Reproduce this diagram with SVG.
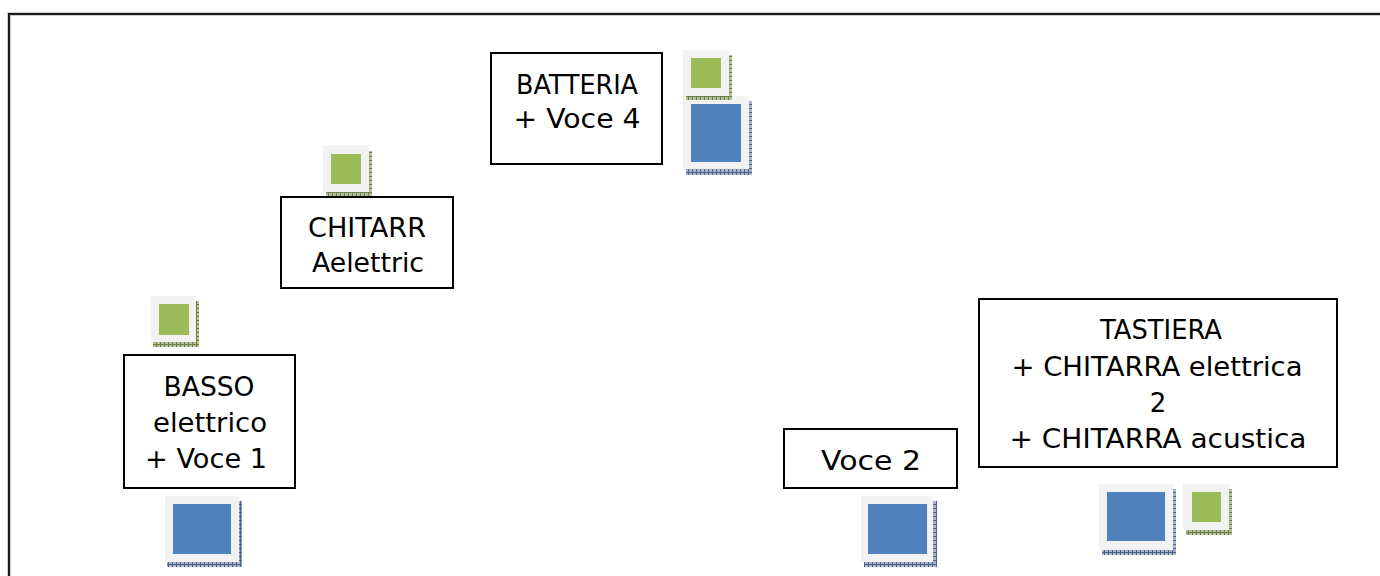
<svg xmlns="http://www.w3.org/2000/svg" width="1380" height="576" viewBox="0 0 1380 576">
<defs>
<pattern id="hg" patternUnits="userSpaceOnUse" width="4" height="4">
<rect width="4" height="4" fill="#b3bf97"/>
<path d="M0.5,0V4M0,0.5H4" stroke="#6f7f4c" stroke-width="1"/>
</pattern>
<pattern id="hb" patternUnits="userSpaceOnUse" width="4" height="4">
<rect width="4" height="4" fill="#a6b3cb"/>
<path d="M0.5,0V4M0,0.5H4" stroke="#4f6188" stroke-width="1"/>
</pattern>
</defs>
<style>
.box{fill:#fff;stroke:#000;stroke-width:2}
.t{font-family:"DejaVu Sans","Liberation Sans",sans-serif;font-size:26px;fill:#000;text-anchor:middle}
.fr{fill:#f2f2f2}
.g{fill:#9bbb59}
.b{fill:#4f81bd}
.sg{fill:url(#hg)}
.sb{fill:url(#hb)}
</style>
<rect width="1380" height="576" fill="#fff"/>
<path d="M9,576V14H1380" fill="none" stroke="#cfcfcf" stroke-width="4"/>
<path d="M9,576V14H1380" fill="none" stroke="#1a1a1a" stroke-width="2"/>

<g id="batteria">
<rect class="box" x="491" y="53" width="171" height="111"/>
<text class="t" x="577" y="94" textLength="122" lengthAdjust="spacingAndGlyphs">BATTERIA</text>
<text class="t" x="577" y="128" textLength="127" lengthAdjust="spacingAndGlyphs">+ Voce 4</text>
</g>
<g id="batteria-icons">
<rect class="sb" x="686" y="101" width="66" height="74"/>
<rect class="fr" x="683" y="96" width="66" height="73"/>
<rect class="b" x="691" y="104" width="50" height="58"/>
<rect class="sg" x="686" y="55" width="46" height="45"/>
<rect class="fr" x="683" y="50" width="46" height="46"/>
<rect class="g" x="691" y="58" width="30" height="30"/>
</g>

<g id="chitarra">
<rect class="box" x="281" y="197" width="172" height="91"/>
<text class="t" x="367" y="237" textLength="118" lengthAdjust="spacingAndGlyphs">CHITARR</text>
<text class="t" x="368" y="272" textLength="112" lengthAdjust="spacingAndGlyphs">Aelettric</text>
</g>
<g id="chitarra-icon">
<rect class="sg" x="326" y="151" width="46" height="45"/>
<rect class="fr" x="323" y="145" width="46" height="47"/>
<rect class="g" x="331" y="154" width="30" height="30"/>
</g>

<g id="basso">
<rect class="box" x="124" y="355" width="171" height="133"/>
<text class="t" x="209" y="396" textLength="91" lengthAdjust="spacingAndGlyphs">BASSO</text>
<text class="t" x="210" y="432" textLength="114" lengthAdjust="spacingAndGlyphs">elettrico</text>
<text class="t" x="206" y="468" textLength="122" lengthAdjust="spacingAndGlyphs">+ Voce 1</text>
</g>
<g id="basso-icons">
<rect class="sg" x="153" y="301" width="46" height="46"/>
<rect class="fr" x="151" y="296" width="45" height="46"/>
<rect class="g" x="159" y="304" width="30" height="31"/>
<rect class="sb" x="167" y="501" width="75" height="66"/>
<rect class="fr" x="165" y="496" width="74" height="66"/>
<rect class="b" x="173" y="504" width="58" height="50"/>
</g>

<g id="voce2">
<rect class="box" x="784" y="429" width="173" height="59"/>
<text class="t" x="871" y="470" textLength="100" lengthAdjust="spacingAndGlyphs">Voce 2</text>
</g>
<g id="voce2-icon">
<rect class="sb" x="864" y="501" width="73" height="66"/>
<rect class="fr" x="861" y="496" width="72" height="66"/>
<rect class="b" x="868" y="504" width="59" height="50"/>
</g>

<g id="tastiera">
<rect class="box" x="979" y="299" width="358" height="168"/>
<text class="t" x="1161" y="339" textLength="122" lengthAdjust="spacingAndGlyphs">TASTIERA</text>
<text class="t" x="1157" y="376" textLength="291" lengthAdjust="spacingAndGlyphs">+ CHITARRA elettrica</text>
<text class="t" x="1158" y="412">2</text>
<text class="t" x="1158" y="448" textLength="297" lengthAdjust="spacingAndGlyphs">+ CHITARRA acustica</text>
</g>
<g id="tastiera-icons">
<rect class="sb" x="1102" y="489" width="74" height="66"/>
<rect class="fr" x="1099" y="484" width="74" height="66"/>
<rect class="b" x="1107" y="492" width="58" height="49"/>
<rect class="sg" x="1186" y="489" width="46" height="46"/>
<rect class="fr" x="1183" y="484" width="46" height="46"/>
<rect class="g" x="1192" y="492" width="29" height="30"/>
</g>
<g id="connectors"/>
</svg>
